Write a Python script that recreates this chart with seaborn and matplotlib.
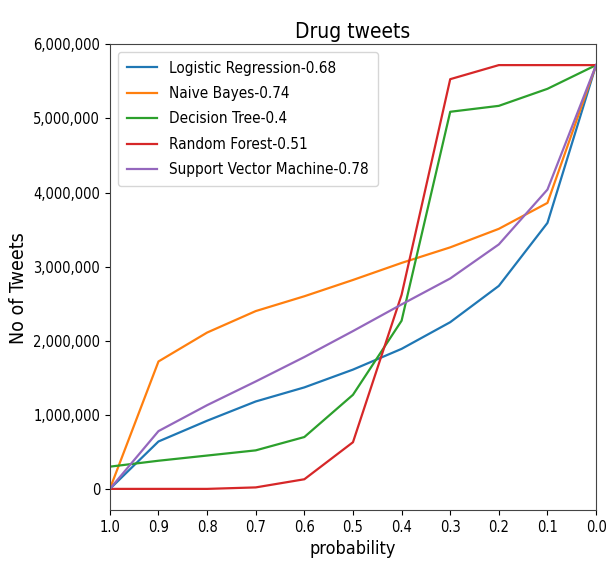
import numpy as np
import pandas as pd
import matplotlib
matplotlib.use("Agg")
import matplotlib.pyplot as plt
import matplotlib.ticker as mticker
import seaborn as sns

plt.rcParams['font.family'] = ['DejaVu Sans']
plt.rcParams['font.stretch'] = 'condensed'

# probability thresholds (x axis runs from 1.0 down to 0.0)
prob = [1.0, 0.9, 0.8, 0.7, 0.6, 0.5, 0.4, 0.3, 0.2, 0.1, 0.0]

logreg = [0, 640000, 920000, 1180000, 1370000, 1610000, 1890000, 2250000, 2740000, 3590000, 5720000]
nbayes = [0, 1720000, 2110000, 2400000, 2600000, 2820000, 3050000, 3260000, 3510000, 3860000, 5720000]
dtree = [300000, 380000, 450000, 520000, 700000, 1270000, 2270000, 5090000, 5170000, 5400000, 5720000]
rforest = [0, 0, 0, 20000, 130000, 630000, 2620000, 5530000, 5720000, 5720000, 5720000]
svm = [0, 780000, 1130000, 1450000, 1780000, 2130000, 2490000, 2840000, 3300000, 4040000, 5720000]

labels = ['Logistic Regression-0.68', 'Naive Bayes-0.74', 'Decision Tree-0.4',
          'Random Forest-0.51', 'Support Vector Machine-0.78']
series = [logreg, nbayes, dtree, rforest, svm]
colors = ['#1f77b4', '#ff7f0e', '#2ca02c', '#d62728', '#9467bd']

fig = plt.figure(figsize=(6.07, 5.63), dpi=100)
ax = fig.add_axes([0.181, 0.094, 0.801, 0.828])

for vals, lab, col in zip(series, labels, colors):
    df = pd.DataFrame({'prob': prob, 'tweets': vals})
    sns.lineplot(data=df, x='prob', y='tweets', ax=ax, color=col, label=lab, linewidth=1.6)

ax.set_xlim(1.0, 0.0)
ax.set_xticks(prob)
ax.yaxis.set_major_formatter(mticker.FuncFormatter(lambda v, p: '{:,.0f}'.format(v)))
ax.tick_params(labelsize=10.5)
for sp in ax.spines.values():
    sp.set_color('#444444')
ax.set_title('Drug tweets', fontsize=15, pad=4)
ax.set_ylabel('No of Tweets', fontsize=14)
ax.yaxis.set_label_coords(-0.168, 0.476)
ax.set_xlabel('probability', fontsize=13)
ax.xaxis.set_label_coords(0.5, -0.064)
ax.legend(loc='upper left', fontsize=11, labelspacing=0.68, borderpad=0.6)

fig.savefig('out.png', dpi=100)
